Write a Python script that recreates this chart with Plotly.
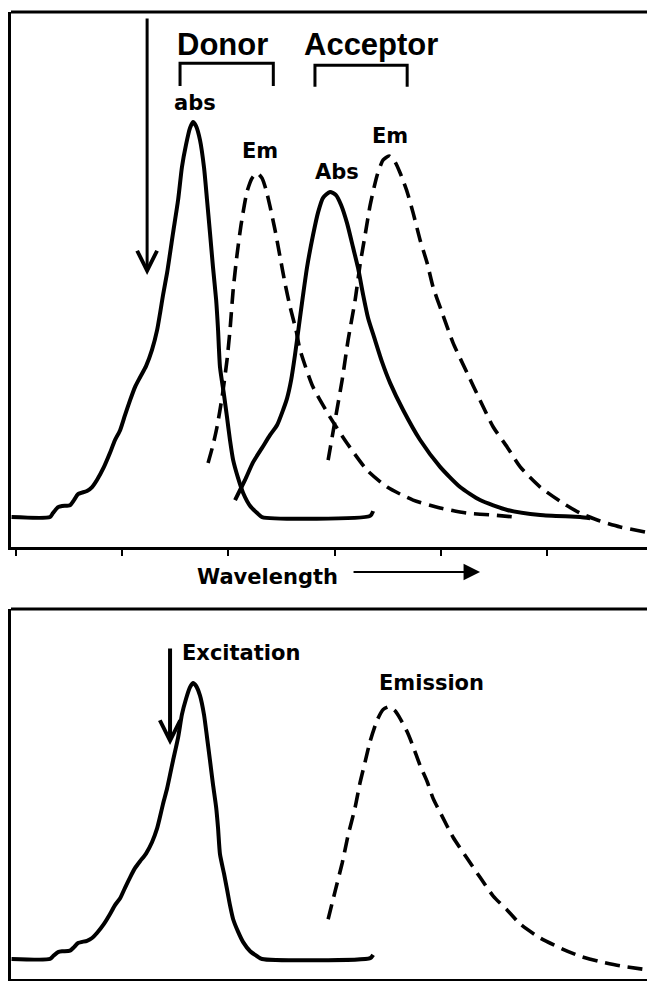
import plotly.graph_objects as go

# ---- data (wavelength in arbitrary nm-like units, relative intensity) ----
donor_abs_wl = [348.0, 366.1, 367.5, 369.9, 371.8, 375.5, 377.4, 379.3, 383.5, 385.9, 388.2,
                391.5, 394.3, 396.7, 399.1, 401.4, 403.8, 406.1, 408.5, 411.3, 414.1, 416.5,
                417.9, 419.3, 421.2, 422.6, 424.0, 426.4, 428.2, 430.1, 432.0, 433.4, 434.8,
                436.7, 438.6, 440.0, 441.4, 442.8, 444.3, 445.2, 446.1, 448.0, 449.4, 450.8,
                452.3, 454.6, 457.0, 460.3, 463.6, 465.9, 516.8, 518.2]
donor_abs_int = [0.0, 0.0, 0.010, 0.025, 0.028, 0.030, 0.043, 0.058, 0.066, 0.076, 0.094,
                 0.127, 0.162, 0.195, 0.220, 0.258, 0.296, 0.329, 0.354, 0.382, 0.423, 0.473,
                 0.516, 0.562, 0.618, 0.668, 0.719, 0.803, 0.886, 0.942, 0.985, 1.0, 0.990,
                 0.954, 0.884, 0.803, 0.719, 0.633, 0.549, 0.473, 0.380, 0.309, 0.253, 0.195,
                 0.144, 0.099, 0.061, 0.028, 0.010, 0.0, 0.003, 0.015]

donor_em_wl = [440.5, 442.8, 444.7, 447.1, 449.4, 450.8, 452.3, 454.1, 456.0, 458.8, 461.2,
               463.6, 465.9, 467.8, 469.7, 472.0, 474.4, 476.7, 479.1, 481.9, 483.8, 489.9,
               497.9, 505.9, 515.3, 524.8, 537.0, 549.7, 562.4, 574.7, 585.0]
donor_em_int = [0.137, 0.182, 0.228, 0.304, 0.397, 0.473, 0.575, 0.663, 0.739, 0.823, 0.858,
                0.871, 0.858, 0.828, 0.785, 0.727, 0.658, 0.592, 0.532, 0.473, 0.423, 0.329,
                0.253, 0.187, 0.119, 0.076, 0.043, 0.023, 0.010, 0.005, 0.0]

acceptor_abs_wl = [453.2, 457.9, 461.7, 465.9, 469.7, 473.0, 475.8, 477.7, 479.6, 481.4, 483.3,
                   485.2, 487.1, 489.9, 492.3, 494.6, 497.9, 500.7, 503.1, 505.9, 508.8, 511.1,
                   513.5, 515.8, 518.6, 522.4, 526.2, 532.3, 540.3, 549.7, 559.1, 568.5, 581.3,
                   596.8, 615.6, 620.3]
acceptor_abs_int = [0.043, 0.094, 0.139, 0.175, 0.208, 0.233, 0.271, 0.301, 0.347, 0.410, 0.486,
                    0.562, 0.633, 0.714, 0.772, 0.808, 0.823, 0.815, 0.790, 0.744, 0.681, 0.630,
                    0.562, 0.504, 0.456, 0.392, 0.339, 0.271, 0.195, 0.127, 0.076, 0.043, 0.018,
                    0.005, 0.0, -0.003]

acceptor_em_wl = [497.0, 500.3, 503.6, 506.4, 509.7, 512.0, 514.4, 516.8, 520.1, 522.9, 525.7,
                  528.5, 530.9, 534.2, 537.0, 540.3, 543.6, 546.4, 550.2, 555.8, 562.4, 568.5,
                  574.7, 581.3, 587.4, 596.8, 607.6, 615.6, 625.0, 634.5, 646.2]
acceptor_em_int = [0.144, 0.246, 0.347, 0.448, 0.549, 0.638, 0.714, 0.790, 0.866, 0.904, 0.914,
                   0.899, 0.871, 0.823, 0.770, 0.701, 0.643, 0.582, 0.524, 0.441, 0.365, 0.296,
                   0.228, 0.177, 0.127, 0.076, 0.035, 0.010, -0.010, -0.025, -0.038]

tick_vals = [350, 400, 450, 500, 550, 600]

# ---- styles ----
BLACK = "#000000"
SOLID_W = 4
DASH_W = 3.6
DASH = "15px,8px"
SMOOTH = 0.6
LABEL_FONT = dict(family="DejaVu Sans, Arial, sans-serif", size=21, color=BLACK, weight="bold")
BIG_FONT = dict(family="Liberation Sans, Arial, sans-serif", size=31, color=BLACK, weight="bold")

def solid():
    return dict(color=BLACK, width=SOLID_W, shape="spline", smoothing=SMOOTH)

def dashed():
    return dict(color=BLACK, width=DASH_W, dash=DASH, shape="spline", smoothing=SMOOTH)

fig = go.Figure()

# top panel
fig.add_trace(go.Scatter(x=donor_abs_wl, y=donor_abs_int, mode="lines", line=solid(),
                         xaxis="x", yaxis="y"))
fig.add_trace(go.Scatter(x=donor_em_wl, y=donor_em_int, mode="lines", line=dashed(),
                         xaxis="x", yaxis="y"))
fig.add_trace(go.Scatter(x=acceptor_abs_wl, y=acceptor_abs_int, mode="lines", line=solid(),
                         xaxis="x", yaxis="y"))
fig.add_trace(go.Scatter(x=acceptor_em_wl, y=acceptor_em_int, mode="lines", line=dashed(),
                         xaxis="x", yaxis="y"))
# bottom panel
fig.add_trace(go.Scatter(x=donor_abs_wl, y=donor_abs_int, mode="lines", line=solid(),
                         xaxis="x2", yaxis="y2"))
fig.add_trace(go.Scatter(x=acceptor_em_wl, y=acceptor_em_int, mode="lines", line=dashed(),
                         xaxis="x2", yaxis="y2"))

XR = [347.74, 647.08]
annos = []
def txt(x, y, s, font, xref="x", yref="y"):
    annos.append(dict(x=x, y=y, xref=xref, yref=yref, text=s, showarrow=False,
                      xanchor="center", yanchor="middle", font=font))

txt(447.1, 1.195, "Donor", BIG_FONT)
txt(517.2, 1.195, "Acceptor", BIG_FONT)
txt(434.4, 1.048, "abs", LABEL_FONT)
txt(465.0, 0.927, "Em", LABEL_FONT)
txt(501.2, 0.873, "Abs", LABEL_FONT)
txt(526.2, 0.965, "Em", LABEL_FONT)
txt(468.3, 0.4157, "Wavelength", LABEL_FONT, yref="paper")
txt(456.0, 1.109, "Excitation", LABEL_FONT, xref="x2", yref="y2")
txt(545.5, 1.0, "Emission", LABEL_FONT, xref="x2", yref="y2")

# arrows
annos.append(dict(x=411.8, y=0.613, xref="x", yref="y", ax=411.8, ay=1.266, axref="x", ayref="y",
                  text="", showarrow=True, arrowhead=5, arrowwidth=3, arrowsize=1.3,
                  arrowcolor=BLACK, standoff=0))
annos.append(dict(x=422.6, y=0.775, xref="x2", yref="y2", ax=422.6, ay=1.130, axref="x2", ayref="y2",
                  text="", showarrow=True, arrowhead=5, arrowwidth=4, arrowsize=1.0,
                  arrowcolor=BLACK, standoff=0))
annos.append(dict(x=568.5, y=0.4209, xref="x", yref="paper", ax=-128, ay=0,
                  text="", showarrow=True, arrowhead=2, arrowwidth=2.2, arrowsize=1.5,
                  arrowcolor=BLACK, standoff=0))

shapes = [
    # top borders
    dict(type="line", xref="paper", yref="y domain", x0=0, x1=1, y0=1, y1=1,
         line=dict(color=BLACK, width=3)),
    dict(type="line", xref="paper", yref="y2 domain", x0=0, x1=1, y0=1, y1=1,
         line=dict(color=BLACK, width=3)),
    # brackets
    dict(type="path", xref="x", yref="y", path="M 427.3,1.091 L 427.3,1.149 L 471.2,1.149 L 471.2,1.091",
         line=dict(color=BLACK, width=3)),
    dict(type="path", xref="x", yref="y", path="M 490.8,1.089 L 490.8,1.144 L 534.2,1.144 L 534.2,1.089",
         line=dict(color=BLACK, width=3)),
]

axis_common = dict(showgrid=False, zeroline=False, showline=True, linecolor=BLACK, linewidth=3)

fig.update_layout(
    width=647, height=981,
    margin=dict(l=11, r=0, t=12, b=2),
    paper_bgcolor="white", plot_bgcolor="white",
    showlegend=False,
    xaxis=dict(domain=[0, 1], range=XR, anchor="y", tickmode="array", tickvals=tick_vals,
               ticks="outside", ticklen=6, tickwidth=2, tickcolor=BLACK, showticklabels=False,
               **axis_common),
    yaxis=dict(domain=[0.4467, 1.0], range=[-0.0759, 1.2785], anchor="x", ticks="",
               showticklabels=False, **axis_common),
    xaxis2=dict(domain=[0, 1], range=XR, anchor="y2", ticks="", showticklabels=False,
                **axis_common),
    yaxis2=dict(domain=[0, 0.3826], range=[-0.0725, 1.268], anchor="x2", ticks="",
                showticklabels=False, **axis_common),
    annotations=annos,
    shapes=shapes,
)

fig.write_html(
    "out.html",
    config={"displayModeBar": False, "staticPlot": True},
    post_script="document.body.style.margin='0';document.body.style.padding='0';"
                "document.body.style.overflow='hidden';"
                "document.documentElement.style.overflow='hidden';",
)
